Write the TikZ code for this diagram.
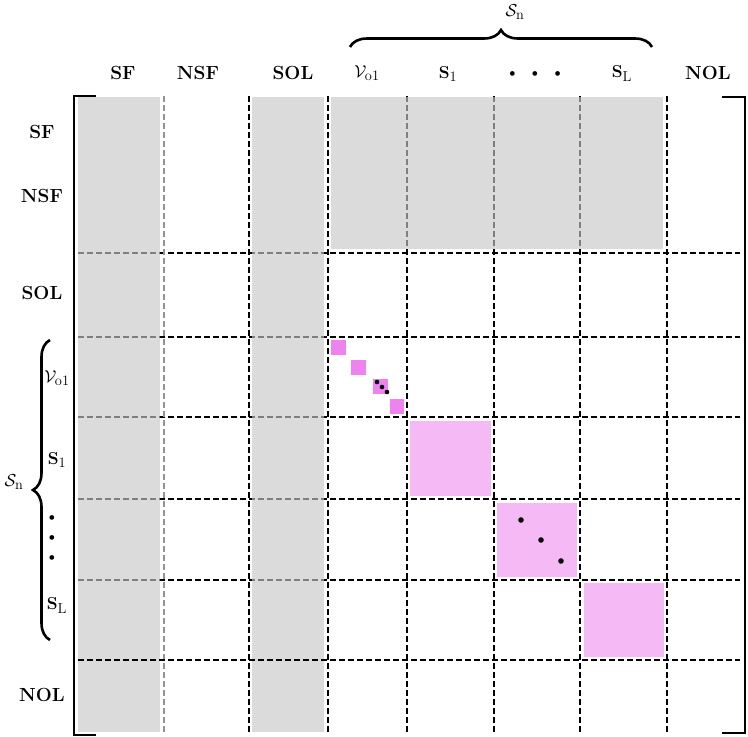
\documentclass[tikz,border=0pt]{standalone}
\usetikzlibrary{decorations.pathreplacing}
\definecolor{cellgray}{gray}{0.78}
\definecolor{vio}{RGB}{238,130,238}
\definecolor{violight}{RGB}{245,185,245}
\begin{document}
\begin{tikzpicture}[x=1pt,y=-1pt,
  gridline/.style={line width=2.2pt,dash pattern=on 5.5pt off 3.5pt},
  grayline/.style={gridline,draw=gray!85,line width=1.9pt},
  shade/.style={fill=cellgray,fill opacity=0.64},
  bigblk/.style={fill=violight},
  smallblk/.style={fill=vio},
  lbl/.style={font=\fontsize{19}{22}\selectfont\bfseries,inner sep=0pt},
  bracketline/.style={line width=2.4pt},
  bracestyle/.style={decorate,decoration={brace,amplitude=17pt},line width=2.6pt},
  dot/.style={fill=black}]
\useasboundingbox (0,0) rectangle (748,737);
% black dashed grid
\foreach \xx in {249,328,407,494,580,667}
  \draw[gridline] (\xx,96) -- (\xx,734);
\foreach \yy in {253,337,417,499,580}
  \draw[gridline] (78,\yy) -- (740,\yy);
% gray shaded regions
\fill[shade] (78,97) rectangle (160,732);
\fill[shade] (252,97) rectangle (324,732);
\fill[shade] (331,97) rectangle (663,249);
% gray separator and last line
\draw[grayline] (164,96) -- (164,734);
\draw[gridline] (78,660) -- (740,660);
% pink blocks
\fill[bigblk] (410,421) rectangle (491,496);
\fill[bigblk] (497,503) rectangle (577,577);
\fill[bigblk] (584,583) rectangle (664,657);
\fill[smallblk] (331,340) rectangle (346,355);
\fill[smallblk] (351,360) rectangle (366,375);
\fill[smallblk] (373,379) rectangle (388,394);
\fill[smallblk] (390,399) rectangle (404,414);
\fill[dot] (377,382) circle (2.3);
\fill[dot] (382,387) circle (2.3);
\fill[dot] (387,392) circle (2.3);
\fill[dot] (521,520) circle (2.8);
\fill[dot] (541,540) circle (2.8);
\fill[dot] (561,561) circle (2.8);
% brackets
\draw[bracketline] (96,96) -- (74,96) -- (74,735) -- (96,735);
\draw[bracketline] (722,97) -- (745,97) -- (745,733) -- (722,733);
% header labels
\node[lbl] (hSF) at (123,73) {SF};
\node[lbl] (hNSF) at (198,73) {NSF};
\node[lbl] (hSOL) at (293,73) {SOL};
\node[lbl] (hV) at (367,73) {$\mathcal{V}_{\mathrm{o1}}$};
\node[lbl] (hS1) at (448,74) {$\mathbf{S}_1$};
\node[lbl,font=\fontsize{21}{22}\selectfont] (hdots) at (535,76) {\textbullet\hspace{7.5pt}\textbullet\hspace{7.5pt}\textbullet};
\node[lbl] (hSL) at (622,74) {$\mathbf{S}_{\mathrm{L}}$};
\node[lbl] (hNOL) at (708,73) {NOL};
% row labels
\node[lbl] (rSF) at (42,132) {SF};
\node[lbl] (rNSF) at (42,196) {NSF};
\node[lbl] (rSOL) at (42,293) {SOL};
\node[lbl] (rV) at (57,378) {$\mathcal{V}_{\mathrm{o1}}$};
\node[lbl] (rS1) at (57,460) {$\mathbf{S}_1$};
\node[lbl,font=\fontsize{21}{20}\selectfont,align=center] (rdots) at (52,540) {\textbullet\\\textbullet\\\textbullet};
\node[lbl] (rSL) at (57,606) {$\mathbf{S}_{\mathrm{L}}$};
\node[lbl] (rNOL) at (42,695) {NOL};
% braces
\draw[bracestyle] (350,47) -- (652,47);
\node[lbl] (topSn) at (515,12) {$\mathcal{S}_{\mathrm{n}}$};
\draw[bracestyle] (50,640) -- (50,340);
\node[lbl] (leftSn) at (14,482) {$\mathcal{S}_{\mathrm{n}}$};
\end{tikzpicture}
\end{document}
